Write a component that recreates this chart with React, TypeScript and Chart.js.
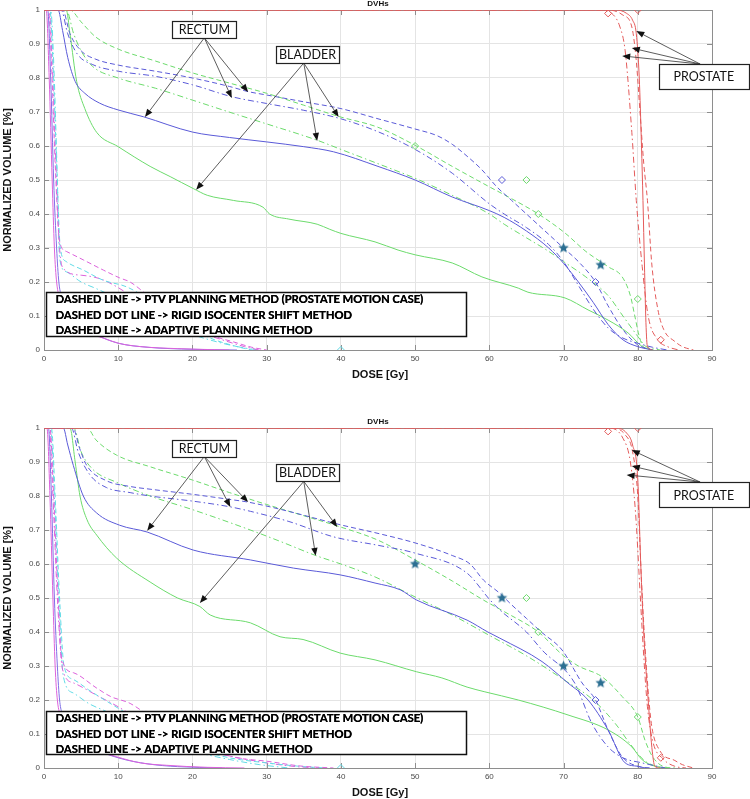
import React, { useEffect, useRef } from 'react';
import { Chart, registerables } from 'chart.js';

Chart.register(...registerables);

type Pts = [number, number][];

// ---------- axes ----------
const doseTicks = [0, 10, 20, 30, 40, 50, 60, 70, 80, 90];
const volumeTicks = [0, 0.1, 0.2, 0.3, 0.4, 0.5, 0.6, 0.7, 0.8, 0.9, 1];
const volumeLabels = ['0', '0.1', '0.2', '0.3', '0.4', '0.5', '0.6', '0.7', '0.8', '0.9', '1'];
const chartTitle = 'DVHs';
const xTitle = 'DOSE [Gy]';
const yTitle = 'NORMALIZED VOLUME [%]';
const legendLines = [
  'DASHED LINE -> PTV PLANNING METHOD (PROSTATE MOTION CASE)',
  'DASHED DOT LINE -> RIGID ISOCENTER SHIFT METHOD',
  'DASHED LINE -> ADAPTIVE PLANNING METHOD',
];

// ---------- TOP PANEL ----------
const topProstatePTV: Pts = [[0, 1], [76, 1], [78, 0.985], [79.2, 0.95], [79.8, 0.85], [80.3, 0.7], [80.8, 0.55], [81.3, 0.44], [81.9, 0.25], [82.7, 0.12], [83.5, 0.06], [85, 0.025], [86, 0.01], [87.5, 0]];
const topProstateRigid: Pts = [[0, 1], [75, 1], [76.5, 0.99], [77.6, 0.95], [78.3, 0.88], [79.2, 0.64], [79.8, 0.44], [80.6, 0.245], [81.4, 0.1], [82.7, 0.03], [84, 0.01], [85.5, 0]];
const topProstateAdaptive: Pts = [[0, 1], [77, 1], [78.5, 0.99], [79.3, 0.97], [79.8, 0.93], [80.2, 0.8], [80.5, 0.6], [80.7, 0.44], [80.9, 0.25], [81.1, 0.08], [81.3, 0.01], [82, 0]];

const topRectumPTV: Pts = [[0, 1], [2.5, 1], [3.5, 0.93], [5, 0.88], [7, 0.855], [10, 0.838], [15, 0.82], [20, 0.8], [25, 0.775], [27.5, 0.76], [30, 0.75], [35, 0.73], [40, 0.71], [45, 0.68], [50, 0.65], [53, 0.63], [55, 0.605], [57, 0.57], [59, 0.53], [61, 0.48], [63, 0.44], [65, 0.4], [67, 0.36], [70, 0.3], [72, 0.26], [74.3, 0.2], [76, 0.13], [78, 0.06], [80, 0.015], [82, 0]];
const topRectumRigid: Pts = [[0, 1], [2.3, 1], [3.2, 0.93], [4.5, 0.87], [6.5, 0.84], [10, 0.82], [15, 0.805], [20, 0.78], [25.3, 0.745], [30, 0.725], [35, 0.705], [40, 0.68], [45, 0.642], [50, 0.59], [55, 0.52], [60, 0.43], [62, 0.4], [65, 0.36], [68, 0.31], [70, 0.26], [72, 0.19], [74, 0.12], [76, 0.065], [78, 0.035], [80, 0.02], [82, 0.008], [84, 0]];
const topRectumAdaptive: Pts = [[0, 1], [1.9, 1], [2.5, 0.94], [3.2, 0.86], [4.2, 0.79], [5.5, 0.755], [7.5, 0.726], [10, 0.706], [13.4, 0.686], [20, 0.641], [25, 0.625], [30, 0.612], [35, 0.598], [39, 0.583], [45, 0.54], [50, 0.5], [55, 0.45], [60, 0.41], [62, 0.39], [65, 0.35], [68, 0.3], [70, 0.255], [72, 0.2], [74, 0.14], [76, 0.075], [78, 0.03], [80, 0.01], [82, 0]];

const topBladderPTV: Pts = [[0, 1], [3.5, 1], [5, 0.965], [7, 0.92], [10, 0.885], [15, 0.85], [20, 0.815], [25, 0.785], [30, 0.755], [35, 0.72], [39.7, 0.687], [45, 0.655], [50, 0.602], [55, 0.54], [60, 0.48], [63, 0.445], [66.6, 0.4], [70.2, 0.344], [73, 0.29], [76, 0.245], [77.9, 0.215], [79, 0.16], [79.6, 0.1], [80.2, 0.04], [80.8, 0.008], [82, 0]];
const topBladderRigid: Pts = [[0, 1], [3, 1], [4, 0.93], [5, 0.88], [6.5, 0.835], [10, 0.8], [15, 0.77], [20, 0.735], [25.5, 0.696], [30, 0.665], [36.8, 0.617], [40, 0.59], [45, 0.548], [50, 0.505], [55, 0.455], [60, 0.4], [62, 0.37], [65, 0.33], [68, 0.29], [70, 0.26], [73, 0.215], [76, 0.16], [78, 0.1], [80, 0.04], [81, 0.012], [83, 0]];
const topBladderAdaptive: Pts = [[0, 1], [3, 1], [3.5, 0.93], [4.4, 0.79], [5.5, 0.71], [7.1, 0.64], [10, 0.598], [14.3, 0.54], [17, 0.51], [20.1, 0.475], [22, 0.455], [25.5, 0.44], [29.5, 0.42], [30.4, 0.4], [33, 0.385], [36.8, 0.37], [38.5, 0.355], [40, 0.343], [44.6, 0.318], [47.7, 0.294], [50, 0.28], [55, 0.256], [59, 0.215], [63.9, 0.182], [65.2, 0.17], [70.2, 0.153], [73.3, 0.118], [76, 0.088], [78.7, 0.05], [80.6, 0.01], [82, 0]];

const topMagentaAdaptive: Pts = [[0, 1], [0.3, 1], [0.7, 0.8], [1.1, 0.5], [1.4, 0.3], [1.7, 0.2], [2.2, 0.15], [3, 0.11], [4, 0.08], [6, 0.05], [8, 0.035], [10, 0.02], [13, 0.01], [18, 0.004], [25, 0]];
const topVioletAdaptive: Pts = [[0, 1], [0.5, 1], [0.9, 0.8], [1.3, 0.5], [1.7, 0.3], [2, 0.2], [2.5, 0.15], [3.5, 0.1], [5, 0.07], [7, 0.045], [10, 0.02], [14, 0.008], [20, 0.002], [26, 0]];
const topMagentaPTV: Pts = [[0, 1], [0.6, 1], [1, 0.85], [1.5, 0.55], [2.1, 0.32], [3, 0.29], [5.3, 0.265], [8, 0.235], [10.2, 0.212], [11.6, 0.2], [14, 0.16], [17, 0.11], [20, 0.07], [23, 0.04], [25.5, 0.024], [28, 0.008], [30, 0]];
const topCyanPTV: Pts = [[0, 1], [0.8, 1], [1.2, 0.85], [1.7, 0.55], [2.2, 0.3], [3, 0.26], [5.3, 0.235], [8, 0.205], [11.1, 0.186], [14, 0.15], [17, 0.1], [20, 0.06], [23, 0.03], [26, 0.01], [28, 0]];
const topMagentaRigid: Pts = [[0, 1], [0.7, 1], [1.1, 0.85], [1.6, 0.55], [2.1, 0.3], [2.6, 0.24], [5, 0.22], [7.5, 0.21], [9.8, 0.186], [13, 0.14], [16, 0.1], [20, 0.06], [24, 0.03], [27, 0.01], [29, 0]];
const topCyanRigid: Pts = [[0, 1], [0.9, 1], [1.3, 0.85], [1.8, 0.5], [2.1, 0.27], [3, 0.23], [5, 0.2], [7.1, 0.18], [10, 0.15], [13, 0.11], [16, 0.075], [20, 0.045], [24, 0.02], [27, 0.006], [29, 0]];

const topBlueDiamonds: Pts = [[61.7, 0.5], [74.3, 0.2]];
const topGreenDiamonds: Pts = [[50, 0.6], [65, 0.5], [66.6, 0.4], [80, 0.15]];
const topRedDiamonds: Pts = [[76, 0.99], [80, 1], [83.1, 0.03]];
const topCyanDiamonds: Pts = [[40, 0]];
const topStars: Pts = [[70, 0.3], [75, 0.25]];

// ---------- BOTTOM PANEL ----------
const botProstatePTV: Pts = [[0, 1], [76.5, 1], [78.3, 0.98], [79.3, 0.93], [80, 0.8], [80.5, 0.55], [81, 0.35], [81.5, 0.2], [81.9, 0.12], [83, 0.05], [85, 0.022], [86, 0.01], [87.5, 0]];
const botProstateRigid: Pts = [[0, 1], [76, 1], [78, 0.97], [79, 0.9], [79.7, 0.75], [80.3, 0.52], [80.8, 0.33], [81.3, 0.18], [82, 0.08], [83.5, 0.025], [85, 0.005], [86.5, 0]];
const botProstateAdaptive: Pts = [[0, 1], [77, 1], [78.5, 0.985], [79.3, 0.95], [80, 0.85], [80.4, 0.6], [80.8, 0.4], [81.4, 0.2], [81.9, 0.06], [82.3, 0.005], [83, 0]];

const botRectumPTV: Pts = [[0, 1], [3.9, 1], [4.8, 0.94], [5.75, 0.89], [8.4, 0.845], [11.6, 0.828], [14.3, 0.82], [20, 0.805], [25, 0.79], [27.5, 0.782], [32, 0.76], [40, 0.715], [45, 0.69], [50, 0.662], [55, 0.625], [57.4, 0.6], [59.2, 0.553], [61.4, 0.514], [63, 0.48], [65, 0.44], [67, 0.4], [69.8, 0.347], [72.5, 0.25], [74.3, 0.2], [76, 0.112], [77.9, 0.033], [80, 0.005], [82, 0]];
const botRectumRigid: Pts = [[0, 1], [3.7, 1], [4.6, 0.93], [6.2, 0.862], [8.4, 0.825], [11.6, 0.81], [14.3, 0.8], [20, 0.785], [25.1, 0.768], [27.8, 0.755], [33, 0.725], [39, 0.68], [45, 0.655], [50, 0.632], [57, 0.573], [60.1, 0.494], [61.4, 0.465], [65, 0.4], [67.1, 0.347], [71.5, 0.25], [73.8, 0.132], [76, 0.062], [78, 0.03], [80.6, 0.015], [83.7, 0]];
const botRectumAdaptive: Pts = [[0, 1], [2.6, 1], [3.2, 0.95], [3.95, 0.89], [5.3, 0.8], [7.1, 0.75], [10.2, 0.714], [13.9, 0.694], [20.1, 0.641], [27.8, 0.612], [33.6, 0.588], [39.9, 0.568], [44.6, 0.544], [48, 0.524], [50.2, 0.494], [57, 0.435], [59.8, 0.4], [61.4, 0.382], [67.1, 0.313], [70.6, 0.25], [73.3, 0.2], [76, 0.112], [78.3, 0.015], [80, 0.005], [81, 0]];

const botBladderPTV: Pts = [[0, 1], [5.8, 1], [7, 0.965], [9.8, 0.92], [14.3, 0.886], [20, 0.847], [25, 0.81], [30, 0.775], [35, 0.742], [39.5, 0.712], [45, 0.67], [50, 0.612], [55, 0.55], [59.2, 0.494], [62, 0.46], [66.6, 0.4], [70, 0.33], [72, 0.3], [75.2, 0.268], [77.9, 0.21], [80, 0.15], [81, 0.08], [82, 0.033], [83.5, 0.004], [85, 0]];
const botBladderRigid: Pts = [[0, 1], [4, 1], [5, 0.93], [6.5, 0.88], [9.8, 0.84], [14.3, 0.8], [20, 0.76], [27.8, 0.7], [32, 0.665], [36.6, 0.625], [40, 0.6], [44.6, 0.562], [50, 0.503], [55, 0.45], [60, 0.39], [65, 0.33], [70, 0.26], [74, 0.2], [77, 0.13], [79, 0.07], [81, 0.02], [83, 0.003], [84, 0]];
const botBladderAdaptive: Pts = [[0, 1], [3.5, 1], [4.2, 0.9], [4.85, 0.8], [5.8, 0.73], [7.1, 0.685], [9.8, 0.617], [14.3, 0.547], [18, 0.5], [21, 0.475], [22.4, 0.45], [27.8, 0.427], [31.8, 0.386], [34.9, 0.378], [39.9, 0.338], [44.6, 0.318], [50.2, 0.283], [53.6, 0.265], [57, 0.238], [59.4, 0.224], [63.9, 0.2], [70.6, 0.156], [76, 0.112], [79.2, 0.062], [80.6, 0.024], [82.7, 0.003], [84, 0]];

const botMagentaAdaptive: Pts = [[0, 1], [0.4, 1], [0.8, 0.8], [1.2, 0.5], [1.5, 0.3], [1.8, 0.2], [2.3, 0.15], [3.5, 0.1], [6, 0.06], [9.8, 0.033], [13, 0.015], [16.5, 0.008], [22, 0.002], [27, 0]];
const botVioletAdaptive: Pts = [[0, 1], [0.6, 1], [1, 0.8], [1.4, 0.5], [1.8, 0.3], [2.1, 0.2], [2.7, 0.15], [4, 0.1], [6.5, 0.06], [10, 0.03], [14, 0.012], [18, 0.004], [24, 0]];
const botMagentaPTV: Pts = [[0, 1], [0.8, 1], [1.3, 0.8], [1.9, 0.5], [2.4, 0.32], [4, 0.28], [7.1, 0.235], [9, 0.21], [11.6, 0.19], [15, 0.14], [19, 0.09], [23, 0.05], [26, 0.03], [30, 0.02], [34.5, 0.006], [39, 0]];
const botCyanPTV: Pts = [[0, 1], [1, 1], [1.5, 0.8], [2.1, 0.5], [2.7, 0.3], [4, 0.26], [6, 0.23], [9.3, 0.185], [12, 0.15], [16, 0.1], [20, 0.06], [25, 0.03], [30, 0.015], [35, 0.004], [38, 0]];
const botMagentaRigid: Pts = [[0, 1], [0.7, 1], [1.2, 0.8], [1.8, 0.5], [2.5, 0.29], [4, 0.25], [7, 0.215], [10, 0.18], [13, 0.14], [17, 0.09], [21, 0.055], [25.5, 0.033], [30, 0.015], [34, 0.004], [37, 0]];
const botCyanRigid: Pts = [[0, 1], [0.9, 1], [1.4, 0.8], [2, 0.5], [2.6, 0.27], [4, 0.22], [6, 0.19], [9, 0.16], [12, 0.12], [16, 0.08], [20, 0.05], [25, 0.025], [29, 0.01], [33, 0]];

const botBlueDiamonds: Pts = [[74.3, 0.2]];
const botGreenDiamonds: Pts = [[65, 0.5], [66.6, 0.4], [80, 0.15]];
const botRedDiamonds: Pts = [[76, 0.99], [80, 1], [83.1, 0.03]];
const botCyanDiamonds: Pts = [[40, 0]];
const botStars: Pts = [[50, 0.6], [61.7, 0.5], [70, 0.3], [75, 0.25]];

// ---------- styles ----------
const COL = {
  blue: '#5a5ad8',
  green: '#6cdb6c',
  red: '#e45a5a',
  magenta: '#dc62dc',
  cyan: '#62dbe6',
  violet: '#8070e6',
  star: '#2c6f92',
};
const DASH = [5, 3];
const DASHDOT = [6, 3, 1.5, 3];
const SOLID: number[] = [];

type Note = { text: string; at: [number, number]; w: number; h: number; from: [number, number]; tips: Pts };

const topNotes: Note[] = [
  { text: 'RECTUM', at: [21.6, 0.943], w: 64, h: 17, from: [21.6, 0.918], tips: [[13.6, 0.685], [25.3, 0.741], [27.5, 0.759]] },
  { text: 'BLADDER', at: [35.5, 0.869], w: 63, h: 17, from: [35.0, 0.844], tips: [[20.5, 0.471], [36.8, 0.615], [39.7, 0.685]] },
  { text: 'PROSTATE', at: [88.9, 0.804], w: 90, h: 25, from: [88.4, 0.841], tips: [[79.8, 0.938], [79.2, 0.888], [77.9, 0.865]] },
];
const botNotes: Note[] = [
  { text: 'RECTUM', at: [21.6, 0.941], w: 64, h: 17, from: [21.6, 0.916], tips: [[13.9, 0.698], [25.1, 0.768], [27.5, 0.782]] },
  { text: 'BLADDER', at: [35.5, 0.868], w: 63, h: 17, from: [35.0, 0.843], tips: [[39.5, 0.709], [36.6, 0.624], [21.0, 0.485]] },
  { text: 'PROSTATE', at: [88.9, 0.803], w: 90, h: 25, from: [88.4, 0.841], tips: [[79.2, 0.935], [79.2, 0.888], [78.5, 0.862]] },
];

type Panel = {
  height: number;
  padTop: number;
  xAxisH: number;
  titleY: number;
  xTitleY: number;
  legendTop: number;
  curves: { pts: Pts; color: string; dash: number[] }[];
  diamonds: { pts: Pts; color: string }[];
  stars: Pts;
  notes: Note[];
};

const topPanel: Panel = {
  height: 390,
  padTop: 10,
  xAxisH: 40,
  titleY: 4,
  xTitleY: 375,
  legendTop: 0.171,
  curves: [
    { pts: topProstatePTV, color: COL.red, dash: DASH },
    { pts: topProstateRigid, color: COL.red, dash: DASHDOT },
    { pts: topProstateAdaptive, color: COL.red, dash: SOLID },
    { pts: topRectumPTV, color: COL.blue, dash: DASH },
    { pts: topRectumRigid, color: COL.blue, dash: DASHDOT },
    { pts: topRectumAdaptive, color: COL.blue, dash: SOLID },
    { pts: topBladderPTV, color: COL.green, dash: DASH },
    { pts: topBladderRigid, color: COL.green, dash: DASHDOT },
    { pts: topBladderAdaptive, color: COL.green, dash: SOLID },
    { pts: topMagentaAdaptive, color: COL.magenta, dash: SOLID },
    { pts: topVioletAdaptive, color: COL.violet, dash: SOLID },
    { pts: topMagentaPTV, color: COL.magenta, dash: DASH },
    { pts: topCyanPTV, color: COL.cyan, dash: DASH },
    { pts: topMagentaRigid, color: COL.magenta, dash: DASHDOT },
    { pts: topCyanRigid, color: COL.cyan, dash: DASHDOT },
  ],
  diamonds: [
    { pts: topBlueDiamonds, color: COL.blue },
    { pts: topGreenDiamonds, color: COL.green },
    { pts: topRedDiamonds, color: COL.red },
    { pts: topCyanDiamonds, color: COL.cyan },
  ],
  stars: topStars,
  notes: topNotes,
};

const bottomPanel: Panel = {
  height: 409,
  padTop: 38,
  xAxisH: 31,
  titleY: 32,
  xTitleY: 403,
  legendTop: 0.168,
  curves: [
    { pts: botProstatePTV, color: COL.red, dash: DASH },
    { pts: botProstateRigid, color: COL.red, dash: DASHDOT },
    { pts: botProstateAdaptive, color: COL.red, dash: SOLID },
    { pts: botRectumPTV, color: COL.blue, dash: DASH },
    { pts: botRectumRigid, color: COL.blue, dash: DASHDOT },
    { pts: botRectumAdaptive, color: COL.blue, dash: SOLID },
    { pts: botBladderPTV, color: COL.green, dash: DASH },
    { pts: botBladderRigid, color: COL.green, dash: DASHDOT },
    { pts: botBladderAdaptive, color: COL.green, dash: SOLID },
    { pts: botMagentaAdaptive, color: COL.magenta, dash: SOLID },
    { pts: botVioletAdaptive, color: COL.violet, dash: SOLID },
    { pts: botMagentaPTV, color: COL.magenta, dash: DASH },
    { pts: botCyanPTV, color: COL.cyan, dash: DASH },
    { pts: botMagentaRigid, color: COL.magenta, dash: DASHDOT },
    { pts: botCyanRigid, color: COL.cyan, dash: DASHDOT },
  ],
  diamonds: [
    { pts: botBlueDiamonds, color: COL.blue },
    { pts: botGreenDiamonds, color: COL.green },
    { pts: botRedDiamonds, color: COL.red },
    { pts: botCyanDiamonds, color: COL.cyan },
  ],
  stars: botStars,
  notes: botNotes,
};

const LEGEND_X: [number, number] = [0.27, 56.9];
const LEGEND_BOTTOM = 0.041;
const FRAME = '#8e8e8e';
const GRID = '#e4e4e4';
const TICK_TXT = '#4a4a4a';

function makeStar(color: string, r: number): HTMLCanvasElement {
  const c = document.createElement('canvas');
  const s = Math.ceil(r * 2 + 2);
  c.width = s;
  c.height = s;
  const g = c.getContext('2d')!;
  g.beginPath();
  for (let i = 0; i < 10; i++) {
    const rr = i % 2 ? r * 0.45 : r;
    const a = -Math.PI / 2 + (i * Math.PI) / 5;
    g.lineTo(s / 2 + rr * Math.cos(a), s / 2 + rr * Math.sin(a));
  }
  g.closePath();
  g.fillStyle = color;
  g.fill();
  return c;
}

function drawArrow(ctx: CanvasRenderingContext2D, x0: number, y0: number, x1: number, y1: number) {
  const ang = Math.atan2(y1 - y0, x1 - x0);
  const L = 8;
  const W = 3.2;
  const bx = x1 - L * Math.cos(ang);
  const by = y1 - L * Math.sin(ang);
  ctx.beginPath();
  ctx.moveTo(x0, y0);
  ctx.lineTo(bx, by);
  ctx.strokeStyle = '#333';
  ctx.lineWidth = 0.8;
  ctx.setLineDash([]);
  ctx.stroke();
  ctx.beginPath();
  ctx.moveTo(x1, y1);
  ctx.lineTo(bx + W * Math.sin(ang), by - W * Math.cos(ang));
  ctx.lineTo(bx - W * Math.sin(ang), by + W * Math.cos(ang));
  ctx.closePath();
  ctx.fillStyle = '#111';
  ctx.fill();
}

function overlayPlugin(panel: Panel) {
  return {
    id: 'dvhOverlay',
    beforeDatasetsDraw(chart: any) {
      const { ctx, chartArea: a, scales } = chart;
      ctx.save();
      ctx.strokeStyle = FRAME;
      ctx.lineWidth = 1;
      ctx.setLineDash([]);
      ctx.strokeRect(Math.round(a.left) + 0.5, Math.round(a.top) + 0.5, Math.round(a.right - a.left), Math.round(a.bottom - a.top));
      ctx.beginPath();
      const T = 5;
      doseTicks.forEach((v) => {
        const x = Math.round(scales.x.getPixelForValue(v)) + 0.5;
        ctx.moveTo(x, a.bottom);
        ctx.lineTo(x, a.bottom - T);
        ctx.moveTo(x, a.top);
        ctx.lineTo(x, a.top + T);
      });
      volumeTicks.forEach((v) => {
        const y = Math.round(scales.y.getPixelForValue(v)) + 0.5;
        ctx.moveTo(a.left, y);
        ctx.lineTo(a.left + T, y);
        ctx.moveTo(a.right, y);
        ctx.lineTo(a.right - T, y);
      });
      ctx.stroke();
      ctx.restore();
    },
    afterDatasetsDraw(chart: any) {
      const { ctx, scales } = chart;
      const px = (x: number) => scales.x.getPixelForValue(x);
      const py = (y: number) => scales.y.getPixelForValue(y);
      ctx.save();
      // legend box
      const lx0 = Math.round(px(LEGEND_X[0])) + 0.5;
      const lx1 = Math.round(px(LEGEND_X[1])) + 0.5;
      const ly0 = Math.round(py(panel.legendTop)) + 0.5;
      const ly1 = Math.round(py(LEGEND_BOTTOM)) + 0.5;
      ctx.fillStyle = '#fff';
      ctx.fillRect(lx0, ly0, lx1 - lx0, ly1 - ly0);
      ctx.strokeStyle = '#111';
      ctx.lineWidth = 1.5;
      ctx.setLineDash([]);
      ctx.strokeRect(lx0, ly0, lx1 - lx0, ly1 - ly0);
      ctx.font = 'bold 100px Lato';
      const w100 = ctx.measureText(legendLines[0]).width;
      const fs = (100 * 368) / w100;
      ctx.font = `bold ${fs.toFixed(2)}px Lato`;
      ctx.fillStyle = '#000';
      ctx.textAlign = 'left';
      ctx.textBaseline = 'alphabetic';
      const base = [10.4, 26, 41.2];
      legendLines.forEach((t, i) => {
        ctx.fillText(t, lx0 + 9, ly0 + base[i]);
        ctx.fillText(t, lx0 + 9.35, ly0 + base[i]);
      });

      // annotation boxes & arrows
      panel.notes.forEach((n) => {
        const fx = px(n.from[0]);
        const fy = py(n.from[1]);
        n.tips.forEach((t) => drawArrow(ctx, fx, fy, px(t[0]), py(t[1])));
      });
      panel.notes.forEach((n) => {
        const cx = px(n.at[0]);
        const cy = py(n.at[1]);
        const x0 = Math.round(cx - n.w / 2) + 0.5;
        const y0 = Math.round(cy - n.h / 2) + 0.5;
        ctx.fillStyle = '#fff';
        ctx.fillRect(x0, y0, n.w, n.h);
        ctx.strokeStyle = '#222';
        ctx.lineWidth = 1.2;
        ctx.strokeRect(x0, y0, n.w, n.h);
        ctx.fillStyle = '#111';
        ctx.font = '12.5px Lato';
        ctx.textAlign = 'center';
        ctx.textBaseline = 'middle';
        ctx.fillText(n.text, cx, cy + 0.5);
      });
      ctx.restore();
    },
    afterDraw(chart: any) {
      const { ctx, chartArea: a } = chart;
      const cx = (a.left + a.right) / 2;
      ctx.save();
      ctx.fillStyle = '#111';
      ctx.textAlign = 'center';
      ctx.textBaseline = 'middle';
      ctx.font = 'bold 8px "Liberation Sans", Arial, sans-serif';
      ctx.fillText(chartTitle, cx, panel.titleY);
      ctx.font = 'bold 11px "Liberation Sans", Arial, sans-serif';
      ctx.fillText(xTitle, cx + 2, panel.xTitleY);
      ctx.translate(8, (a.top + a.bottom) / 2);
      ctx.rotate(-Math.PI / 2);
      ctx.fillText(yTitle, 0, 0);
      ctx.restore();
    },
  };
}

function buildConfig(panel: Panel): any {
  const star = makeStar(COL.star, 5.5);
  const datasets: any[] = [];
  datasets.push({
    data: panel.stars.map(([x, y]) => ({ x, y })),
    showLine: false,
    pointStyle: star,
    pointRadius: 5,
    pointHoverRadius: 5,
  });
  panel.diamonds.forEach((d) =>
    datasets.push({
      data: d.pts.map(([x, y]) => ({ x, y })),
      showLine: false,
      pointStyle: 'rectRot',
      pointRadius: 3.5,
      pointHoverRadius: 3.5,
      borderColor: d.color,
      backgroundColor: 'rgba(0,0,0,0)',
      pointBorderWidth: 1,
    })
  );
  panel.curves.forEach((c) =>
    datasets.push({
      data: c.pts.map(([x, y]) => ({ x, y })),
      showLine: true,
      borderColor: c.color,
      backgroundColor: c.color,
      borderWidth: 1,
      borderDash: c.dash,
      pointRadius: 0,
      pointHoverRadius: 0,
      cubicInterpolationMode: 'monotone',
      fill: false,
    })
  );
  const tickFont = { family: '"Liberation Sans", Arial, sans-serif', size: 8 };
  return {
    type: 'scatter',
    data: { datasets },
    options: {
      animation: false,
      responsive: false,
      maintainAspectRatio: false,
      events: [],
      layout: { padding: { top: panel.padTop, right: 38, left: 0, bottom: 0 } },
      plugins: { legend: { display: false }, tooltip: { enabled: false }, title: { display: false } },
      scales: {
        x: {
          type: 'linear',
          min: 0,
          max: 90,
          afterBuildTicks: (s: any) => {
            s.ticks = doseTicks.map((v) => ({ value: v }));
          },
          afterFit: (s: any) => {
            s.height = panel.xAxisH;
          },
          ticks: {
            font: tickFont,
            color: TICK_TXT,
            padding: 4,
            maxRotation: 0,
            autoSkip: false,
            callback: (v: number) => String(v),
          },
          grid: { color: GRID, drawTicks: false, lineWidth: 1 },
          border: { display: false },
        },
        y: {
          type: 'linear',
          min: 0,
          max: 1,
          afterBuildTicks: (s: any) => {
            s.ticks = volumeTicks.map((v) => ({ value: v }));
          },
          afterFit: (s: any) => {
            s.width = 44;
          },
          ticks: {
            font: tickFont,
            color: TICK_TXT,
            padding: 4,
            autoSkip: false,
            callback: (_v: number, i: number) => volumeLabels[i],
          },
          grid: { color: GRID, drawTicks: false, lineWidth: 1 },
          border: { display: false },
        },
      },
    },
    plugins: [overlayPlugin(panel)],
  };
}

function DvhChart({ panel }: { panel: Panel }) {
  const ref = useRef<HTMLCanvasElement>(null);
  useEffect(() => {
    const chart = new Chart(ref.current as HTMLCanvasElement, buildConfig(panel));
    return () => chart.destroy();
  }, [panel]);
  return <canvas ref={ref} width={750} height={panel.height} style={{ display: 'block', width: 750, height: panel.height }} />;
}

export default function App() {
  return (
    <div style={{ position: 'absolute', left: 0, top: 0, width: 750, height: 799, background: '#fff', overflow: 'hidden' }}>
      <DvhChart panel={topPanel} />
      <DvhChart panel={bottomPanel} />
    </div>
  );
}
